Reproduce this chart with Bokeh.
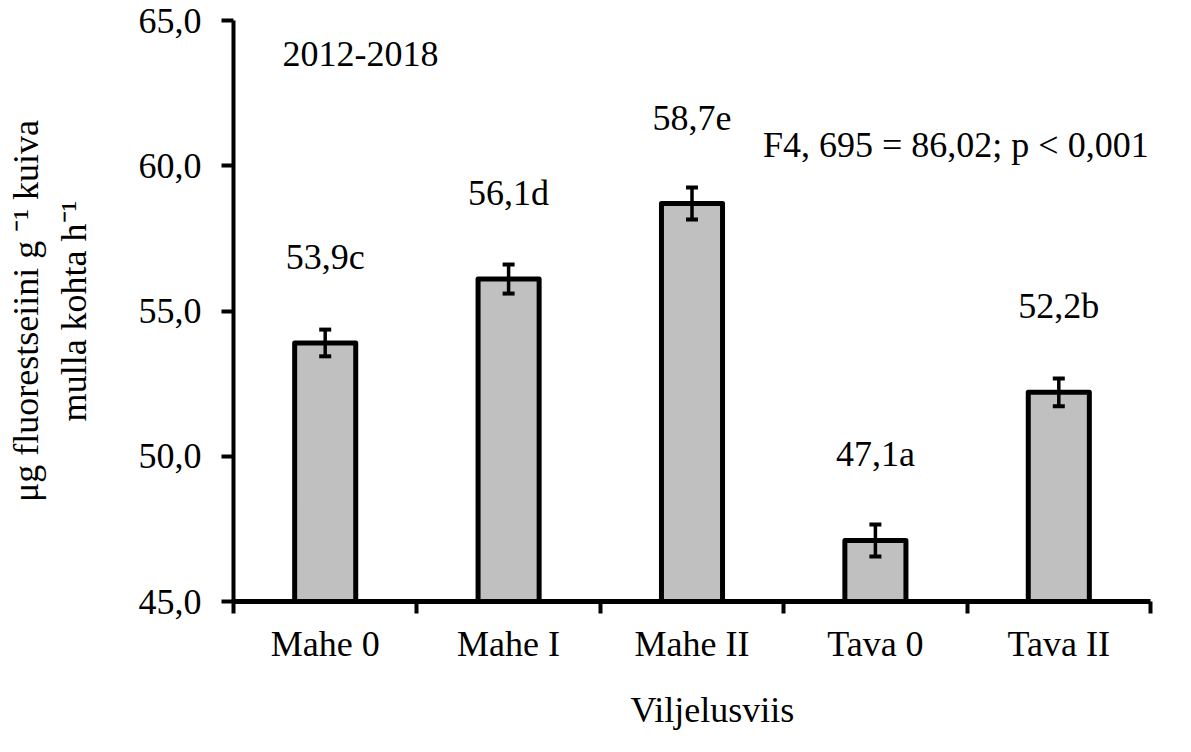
from bokeh.plotting import figure
from bokeh.models import (Range1d, LinearAxis, FixedTicker, Title,
                          CustomJSTickFormatter, Whisker, TeeHead, ColumnDataSource, Label)
from bokeh.core.properties import value
from bokeh.embed import file_html
from bokeh.resources import INLINE

# ---- data ----
categories = ["Mahe 0", "Mahe I", "Mahe II", "Tava 0", "Tava II"]
means = [53.9, 56.1, 58.7, 47.1, 52.2]
errors = [0.46, 0.50, 0.55, 0.55, 0.48]
letters = ["c", "d", "e", "a", "b"]
y_ticks = [45, 50, 55, 60, 65]

FONT = "Liberation Serif"
FS = "36px"

n = len(categories)
centers = [i + 0.5 for i in range(n)]
boundaries = list(range(n + 1))
labels = [f"{m:.1f}".replace(".", ",") + l for m, l in zip(means, letters)]
src = ColumnDataSource(dict(
    x=centers, mean=means,
    upper=[m + e for m, e in zip(means, errors)],
    lower=[m - e for m, e in zip(means, errors)],
    label=labels,
))

p = figure(x_range=Range1d(0, n), y_range=Range1d(45, 65),
           width=1191, height=752,
           output_backend="svg", toolbar_location=None,
           x_axis_location=None,
           min_border_left=233, min_border_right=41,
           min_border_top=20, min_border_bottom=151,
           background_fill_color="white", border_fill_color="white")
p.grid.visible = False
p.outline_line_color = None

# y axis
ya = p.yaxis[0]
ya.ticker = FixedTicker(ticks=y_ticks)
ya.formatter = CustomJSTickFormatter(code="return tick.toFixed(1).replace('.', ',');")
ya.axis_line_width = 4
ya.axis_line_color = "black"
ya.major_tick_line_width = 4
ya.major_tick_line_color = "black"
ya.major_tick_out = 12
ya.major_tick_in = 0
ya.minor_tick_line_color = None
ya.major_label_text_font = FONT
ya.major_label_text_font_size = FS
ya.major_label_text_color = "black"
ya.major_label_standoff = 20
ya.axis_label = "\u03bcg fluorestseiini g \u207b\u00b9 kuiva\nmulla kohta h\u207b\u00b9"
ya.axis_label_text_font = FONT
ya.axis_label_text_font_size = FS
ya.axis_label_text_font_style = "normal"
ya.axis_label_text_color = "black"
ya.axis_label_standoff = 42

# x axis: boundary ticks (no labels) + category labels at centres
tick_axis = LinearAxis(ticker=FixedTicker(ticks=boundaries),
                       formatter=CustomJSTickFormatter(code="return '';"),
                       axis_line_width=5, axis_line_color="black",
                       major_tick_line_width=4, major_tick_line_color="black",
                       major_tick_out=12, major_tick_in=0,
                       minor_tick_line_color=None,
                       major_label_standoff=0, major_label_text_font_size="1px")
p.add_layout(tick_axis, "below")

cat_axis = LinearAxis(ticker=FixedTicker(ticks=centers),
                      formatter=CustomJSTickFormatter(args=dict(names=categories),
                                                      code="return names[Math.floor(tick)];"),
                      axis_line_color=None, major_tick_line_color=None,
                      minor_tick_line_color=None,
                      major_tick_out=0, major_tick_in=0,
                      major_label_standoff=10,
                      major_label_text_font=FONT, major_label_text_font_size=FS,
                      major_label_text_color="black")
p.add_layout(cat_axis, "below")

# x axis title
p.add_layout(Title(text="Viljelusviis", align="left", offset=397, standoff=43,
                   text_font=FONT, text_font_size=FS, text_font_style="normal",
                   text_color="black"), "below")

# bars
p.vbar(x="x", top="mean", bottom=45, width=0.333, source=src,
       fill_color="#c0c0c0", line_color="black", line_width=5, line_join="round")

# error bars
w = Whisker(source=src, base="x", upper="upper", lower="lower",
            line_width=3.5, line_color="black", level="overlay",
            upper_head=TeeHead(size=12, line_width=4, line_color="black"),
            lower_head=TeeHead(size=12, line_width=4, line_color="black"))
p.add_layout(w)

# value labels
p.text(x="x", y="mean", text="label", source=src, y_offset=-86,
       text_align="center", text_baseline="alphabetic",
       text_font=value(FONT), text_font_size=FS, text_color="black")

# annotations
p.add_layout(Label(x=0.267, y=63.83, text="2012-2018", text_align="left",
                   text_baseline="alphabetic", text_font=FONT, text_font_size=FS,
                   text_color="black"))
p.add_layout(Label(x=4.99, y=60.70, text="F4, 695 = 86,02; p < 0,001", text_align="right",
                   text_baseline="alphabetic", text_font=FONT, text_font_size=FS,
                   text_color="black"))

open("out.html", "w").write(file_html(p, INLINE))
